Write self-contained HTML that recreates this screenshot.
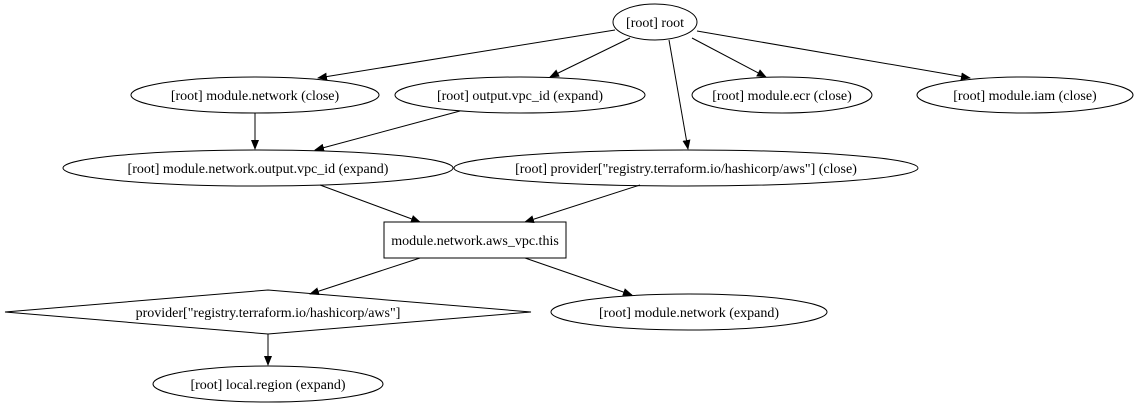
<!DOCTYPE html>
<html><head><meta charset="utf-8"><style>
html,body{margin:0;padding:0;background:#fff;}
svg text{font-family:"Liberation Serif","Times New Roman",serif;font-size:14px;fill:#000;}
</style></head><body>
<svg width="1138" height="404" viewBox="0 0 1138 404" xmlns="http://www.w3.org/2000/svg">
<defs><marker id="a" markerWidth="10" markerHeight="8" refX="9" refY="4" orient="auto" markerUnits="userSpaceOnUse"><path d="M0,0 L10,4 L0,8 z" fill="#000"/></marker></defs>
<g fill="none" stroke="#000" stroke-width="1">
<ellipse cx="655" cy="22" rx="42" ry="18"/>
<ellipse cx="255" cy="95" rx="124" ry="18"/>
<ellipse cx="520" cy="95" rx="125" ry="18"/>
<ellipse cx="782" cy="95" rx="90" ry="18"/>
<ellipse cx="1025" cy="95" rx="108" ry="18"/>
<ellipse cx="258" cy="168" rx="195" ry="18"/>
<ellipse cx="686" cy="168" rx="232" ry="18"/>
<rect x="384" y="222" width="182" height="36"/>
<polygon points="268,290 531,312 268,334 5,312"/>
<ellipse cx="689" cy="312" rx="138" ry="18"/>
<ellipse cx="268" cy="384" rx="115" ry="18"/>
<g marker-end="url(#a)">
<line x1="615" y1="30" x2="318" y2="78"/>
<line x1="630" y1="38" x2="550" y2="77"/>
<line x1="692" y1="38" x2="766" y2="77"/>
<line x1="697" y1="31" x2="970" y2="78"/>
<line x1="669" y1="40" x2="688" y2="149"/>
<line x1="255" y1="113" x2="255" y2="149"/>
<line x1="460" y1="111" x2="315" y2="150"/>
<line x1="320" y1="185" x2="420" y2="222"/>
<line x1="640" y1="185" x2="525" y2="222"/>
<line x1="420" y1="258" x2="310" y2="294"/>
<line x1="525" y1="258" x2="632" y2="295"/>
<line x1="268" y1="334" x2="268" y2="365"/>
</g></g>
<g text-anchor="middle">
<text x="655" y="27">[root] root</text>
<text x="255" y="100">[root] module.network (close)</text>
<text x="520" y="100">[root] output.vpc_id (expand)</text>
<text x="782" y="100">[root] module.ecr (close)</text>
<text x="1025" y="100">[root] module.iam (close)</text>
<text x="258" y="173">[root] module.network.output.vpc_id (expand)</text>
<text x="686" y="173">[root] provider["registry.terraform.io/hashicorp/aws"] (close)</text>
<text x="475" y="245">module.network.aws_vpc.this</text>
<text x="268" y="317">provider["registry.terraform.io/hashicorp/aws"]</text>
<text x="689" y="317">[root] module.network (expand)</text>
<text x="268" y="389">[root] local.region (expand)</text>
</g>
</svg>
</body></html>
